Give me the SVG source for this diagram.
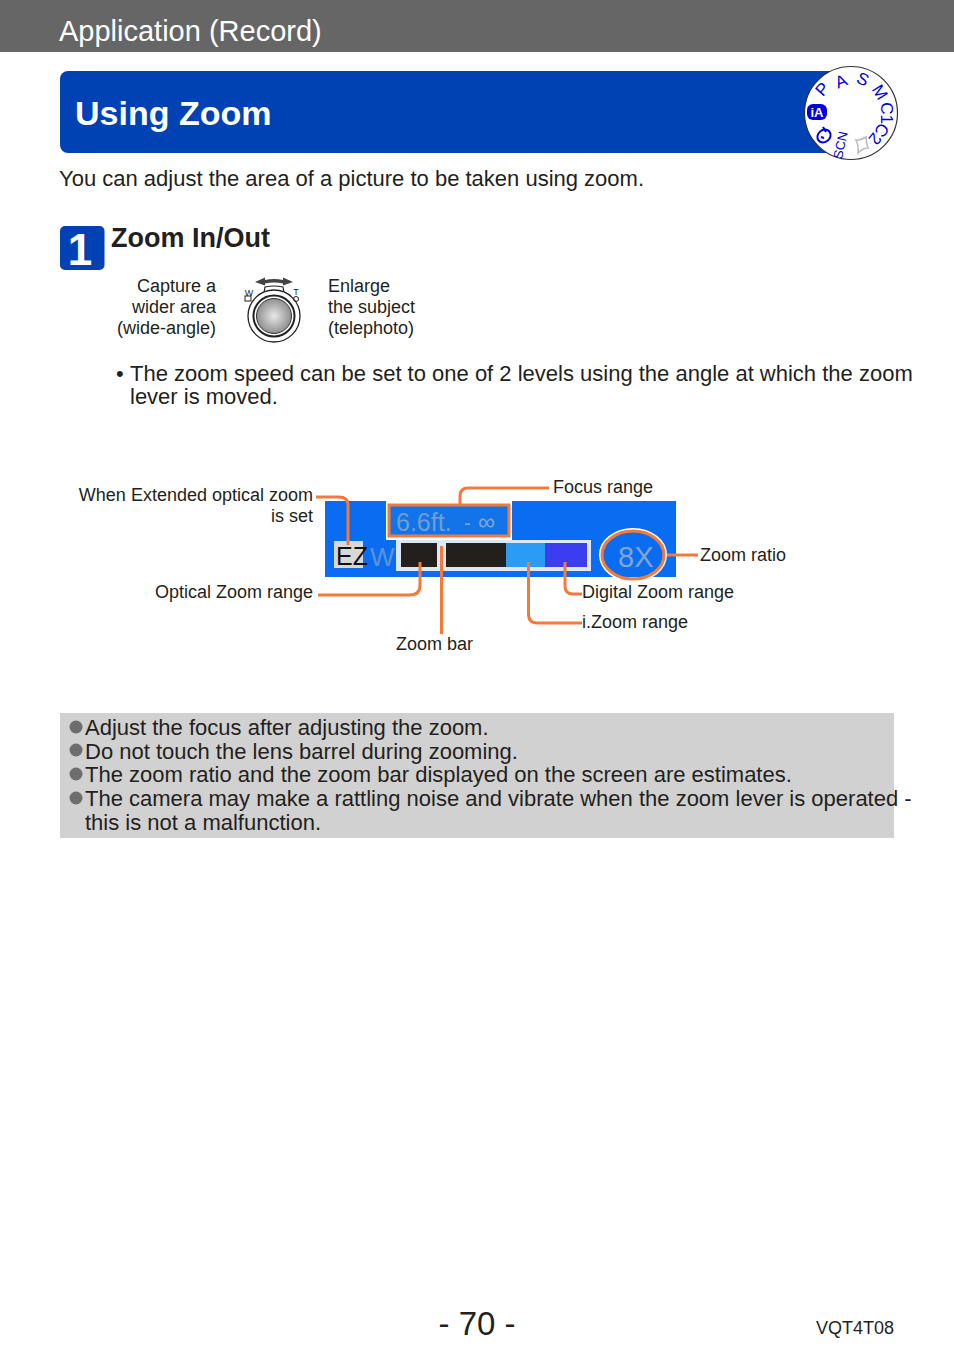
<svg xmlns="http://www.w3.org/2000/svg" width="954" height="1357" viewBox="0 0 954 1357">
<style>
text{font-family:"Liberation Sans",Arial,sans-serif;fill:#231f20}
.b{font-size:22px}
.s{font-size:18px}
.l{font-size:18.5px}
.c{fill:none;stroke:#f47a3c;stroke-width:3}
.d{fill:#0000e0;font-size:17px;text-anchor:middle}
.dot{fill:#6d6d6d}
</style>
<rect width="954" height="1357" fill="#fff"/>
<g id="header"><rect width="954" height="52" fill="#666666"/><text x="59" y="40.500" font-size="29" style="fill:#fff">Application (Record)</text></g>
<g id="title"><rect x="60" y="71" width="800" height="82" rx="8" fill="#0041b4"/><text x="75" y="125" font-size="34" font-weight="bold" style="fill:#fff">Using Zoom</text></g>
<g id="dial">
<circle cx="851" cy="113" r="46.500" fill="#fff" stroke="#333" stroke-width="1.200"/>
<text class="d" transform="translate(841,81) rotate(-22)" y="6">A</text>
<text class="d" transform="translate(863,79) rotate(25)" y="6">S</text>
<text class="d" transform="translate(880,92) rotate(58)" y="6">M</text>
<text class="d" transform="translate(887,113) rotate(90)" y="6">C1</text>
<text class="d" transform="translate(879,134) rotate(128)" y="6">C2</text>
<text class="d" font-size="13" style="font-size:13px" transform="translate(840,145) rotate(-78)" y="5">SCN</text>
<text class="d" transform="translate(822,89) rotate(-48)" y="6">P</text>
<rect x="807" y="104" width="20" height="16" rx="6" fill="#0000e0"/>
<text x="817" y="117" font-size="13" font-weight="bold" text-anchor="middle" style="fill:#fff">iA</text>
<ellipse cx="824" cy="136" rx="7" ry="6" fill="none" stroke="#0000e0" stroke-width="2" transform="rotate(-40 824 136)"/>
<path d="M826 132L823 127M821 137l3 1" fill="none" stroke="#0000e0" stroke-width="2"/>
<path d="M856 140q3 1 10-3q0 5 2 11q-5 0-10 5q1-7-2-13z" fill="#fff" stroke="#bbb" stroke-width="1.500"/>
</g>
<text id="intro" x="59" y="186" class="b">You can adjust the area of a picture to be taken using zoom.</text>
<g id="step1"><rect x="60" y="226" width="44.500" height="44" rx="5" fill="#0041b4"/><text x="80" y="265" font-size="44" font-weight="bold" text-anchor="middle" style="fill:#fff">1</text></g>
<text id="h" x="111" y="247" font-size="27" font-weight="bold">Zoom In/Out</text>
<g id="wide" class="s" text-anchor="end"><text x="216" y="292" class="s">Capture a</text><text x="216" y="313" class="s">wider area</text><text x="216" y="334" class="s">(wide-angle)</text></g>
<g id="lever">
<path d="M255 282l10-4.500v2.500q9-2 18 0v-2.500l10 4.500l-10 3.500v-2q-9-2-18 0v2z" fill="#444"/>
<path d="M264 293l1-6q9-2 18 0l1 6z" fill="#fff" stroke="#222" stroke-width="1.200"/>
<circle cx="274" cy="316" r="26" fill="#fff" stroke="#222" stroke-width="1.300"/>
<circle cx="274" cy="316" r="20.500" fill="#fff" stroke="#222" stroke-width="2"/>
<defs><radialGradient id="g"><stop offset="0" stop-color="#e8e8e8"/><stop offset="1" stop-color="#8f8f8f"/></radialGradient></defs>
<circle cx="274" cy="316" r="17.500" fill="url(#g)" stroke="#333" stroke-width="1"/>
<text x="249" y="296" font-size="9" text-anchor="middle">W</text>
<text x="296" y="295" font-size="9" text-anchor="middle">T</text>
<rect x="245" y="296" width="6" height="5" fill="none" stroke="#222"/>
<circle cx="296" cy="299" r="2.500" fill="none" stroke="#222"/>
</g>
<g id="tele"><text x="328" y="292" class="s">Enlarge</text><text x="328" y="313" class="s">the subject</text><text x="328" y="334" class="s">(telephoto)</text></g>
<g id="note"><text x="116" y="381" class="b">•</text><text x="130" y="381" class="b">The zoom speed can be set to one of 2 levels using the angle at which the zoom</text><text x="130" y="404" class="b">lever is moved.</text></g>
<g id="screen">
<rect x="325" y="501" width="351" height="76" fill="#0a6cf0"/>
<rect x="386" y="501" width="126" height="39" fill="#fff"/>
<rect x="389" y="505" width="120" height="31" fill="#1274e8"/>
<text x="396" y="531" font-size="25" style="fill:#6f9fd0">6.6ft.</text>
<text x="464" y="530" font-size="20" style="fill:#7fa8d4">-</text>
<text x="478" y="530" font-size="24" style="fill:#7fa8d4">∞</text>
<rect x="334" y="541" width="29" height="27" fill="#d8d8d8"/>
<text x="336" y="565" font-size="25" style="fill:#111">EZ</text>
<text x="370" y="566" font-size="26" style="fill:#5c93d8">W</text>
<rect x="396" y="540" width="195" height="31" fill="#dce8f5"/>
<rect x="401" y="543" width="36" height="24" fill="#231f1c"/>
<rect x="446" y="543" width="60" height="24" fill="#231f1c"/>
<rect x="506" y="543" width="39" height="24" fill="#2a9cf5"/>
<rect x="545" y="543" width="42" height="24" fill="#3c3cf0"/>
<text x="618" y="567" font-size="29" style="fill:#7fa5d2">8X</text>
</g>
<g id="connectors">
<path class="c" d="M316 497H339q9 0 9 8V545"/>
<path class="c" d="M549 488H468q-8 0-8 8V504"/>
<path class="c" d="M318 595H410q10 0 10-10V562"/>
<path class="c" stroke-width="3" d="M441.500 546V634" />
<path class="c" d="M528.500 562V614q0 9 9 9H582"/>
<path class="c" d="M565 562V586q0 8 8 8H582"/>
<path class="c" d="M666 555H698"/>
<rect x="389" y="505" width="120" height="31" fill="none" stroke="#f47a3c" stroke-width="3"/>
<ellipse cx="633" cy="555" rx="33" ry="26" fill="none" stroke="#fff" stroke-width="2"/>
<ellipse cx="633" cy="555" rx="31" ry="24" fill="none" stroke="#f47a3c" stroke-width="3"/>
</g>
<g id="labels">
<text x="313" y="501" class="s" text-anchor="end">When Extended optical zoom</text>
<text x="313" y="522" class="s" text-anchor="end">is set</text>
<text x="553" y="493" class="s">Focus range</text>
<text x="700" y="561" class="s">Zoom ratio</text>
<text x="313" y="598" class="s" text-anchor="end">Optical Zoom range</text>
<text x="582" y="598" class="s">Digital Zoom range</text>
<text x="582" y="628" class="s">i.Zoom range</text>
<text x="396" y="650" class="s">Zoom bar</text>
</g>
<g id="notes">
<rect x="60" y="713" width="834" height="125" fill="#d1d1d1"/>
<circle class="dot" cx="76" cy="727" r="6.500"/><text x="85" y="735" class="b">Adjust the focus after adjusting the zoom.</text>
<circle class="dot" cx="76" cy="750" r="6.500"/><text x="85" y="759" class="b">Do not touch the lens barrel during zooming.</text>
<circle class="dot" cx="76" cy="774" r="6.500"/><text x="85" y="782" class="b">The zoom ratio and the zoom bar displayed on the screen are estimates.</text>
<circle class="dot" cx="76" cy="798" r="6.500"/><text x="85" y="806" class="b">The camera may make a rattling noise and vibrate when the zoom lever is operated -</text>
<text x="85" y="830" class="b">this is not a malfunction.</text>
</g>
<text id="page" x="477" y="1335" font-size="33" text-anchor="middle">- 70 -</text>
<text id="code" x="894" y="1334" class="s" text-anchor="end">VQT4T08</text>
</svg>
